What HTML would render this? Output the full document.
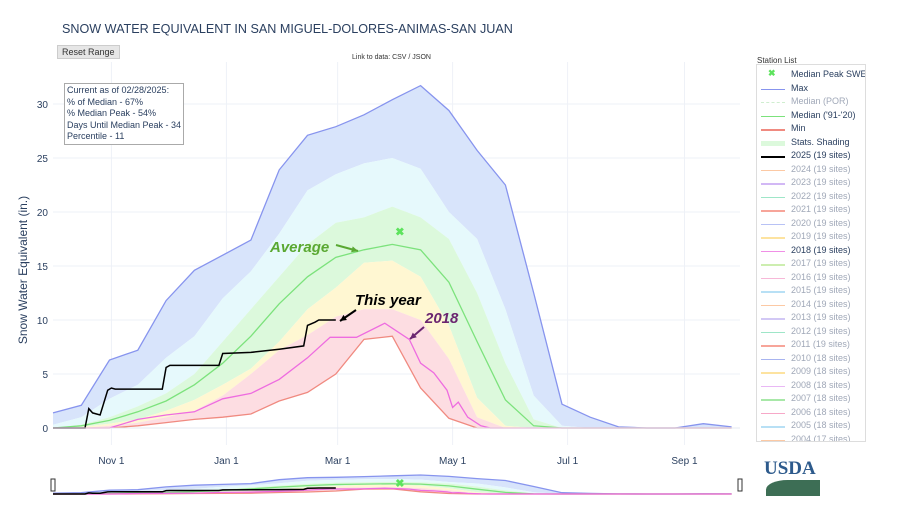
<!DOCTYPE html>
<html><head><meta charset="utf-8"><style>
body{margin:0;background:#fff;font-family:"Liberation Sans",sans-serif;}
#wrap{position:relative;width:897px;height:514px;overflow:hidden;}
.t{position:absolute;white-space:nowrap;}
</style></head><body>
<div id="wrap">
<div class="t" style="left:62px;top:22px;font-size:12.6px;color:#2a3f5f;">SNOW WATER EQUIVALENT IN SAN MIGUEL-DOLORES-ANIMAS-SAN JUAN</div>
<div class="t" style="left:57px;top:45px;font-size:9px;background:#e6e6e6;border:1px solid #ccc;padding:1px 4px;color:#333;">Reset Range</div>
<div class="t" style="left:352px;top:54px;font-size:7px;color:#333;">Link to data: CSV / JSON</div>
<div class="t" style="left:757px;top:56px;font-size:8px;color:#333;">Station List</div>
<svg id="chart" width="897" height="514" style="position:absolute;left:0;top:0"></svg>
<div class="t" style="left:64px;top:83px;font-size:9px;line-height:11.5px;color:#2a3f5f;border:1px solid #aaa;padding:1px 2px;background:#fff;">Current as of 02/28/2025:<br>% of Median - 67%<br>% Median Peak - 54%<br>Days Until Median Peak - 34<br>Percentile - 11</div>
<div id="legend" style="position:absolute;left:756px;top:64px;width:108px;height:376px;border:1px solid #ddd;background:#fff;overflow:hidden;"></div>
<div style="position:absolute;left:764px;top:458px;width:56px;height:40px;">
<div style="font:bold 19px 'Liberation Serif',serif;color:#2d5a8c;">USDA</div>
<div style="position:absolute;left:2px;top:22px;width:54px;height:16px;background:#3d6e55;border-radius:40% 0 0 0 / 60% 0 0 0;"></div>
</div>
</div>
<script>
const days=[0,15,30,45,60,75,90,105,120,135,150,165,180,195,210,225,240,255,270,285,300,315,330,345,360];
const maxV=[1.4,2.1,6.3,7.2,11.8,14.6,16,17.4,23.9,27.1,27.9,29,30.4,31.7,29.4,25.7,22.5,12.5,2.2,1,0.1,0,0,0.4,0.1];
const p90V=[0.3,1,2.7,4,6.5,8.5,12,14.5,18,22,23.5,24.5,25,24,20,17.5,11,3,0.2,0,0,0,0,0,0];
const p70V=[0,0.3,1,2,3.2,5,8,11,14,17,19,19.5,20.5,19.5,17.5,12.5,6,0.8,0,0,0,0,0,0,0];
const medV=[0,0.2,0.7,1.5,2.5,4,6,8.5,11.5,14,15.8,16.5,17,16.5,13.5,8,2.6,0.2,0,0,0,0,0,0,0];
const p30V=[0,0.1,0.4,0.8,1.6,2.6,4,5.5,8,11,13,15.3,15.5,14,9.5,2.8,0.2,0,0,0,0,0,0,0,0];
const p10V=[0,0,0.2,0.5,1,1.6,3,5,7.2,8.6,10.3,11,11,10,6.4,1,0,0,0,0,0,0,0,0,0];
const minV=[0,0,0,0.2,0.5,0.8,1,1.3,2.5,3.3,5,8.2,8.5,3.7,0.9,0,0,0,0,0,0,0,0,0,0];
const y2025Days=[0,17,19,21,25,29,31,33,58,60,62,88,90,105,120,133,135,139,141,150];
const y2025V=[0,0,1.8,1.4,1.2,3.5,3.7,3.6,3.6,5.6,5.8,5.8,6.9,7.0,7.3,7.6,9.5,9.8,10,10];
const y2018Days=[0,30,45,60,75,90,105,120,135,147,161,176,189,195,202,209,212,215,220,227,232,360];
const y2018V=[0,0,0.8,1.2,1.5,2.7,3.2,4.5,6.5,8.4,8.4,9.7,8.2,6,5.1,3.5,1.9,2.4,1,0.2,0,0];
const peakDay=[184], peakVal=[18.2];
const yTicks=[0,5,10,15,20,25,30];
const xTickDays=[31,92,151,212,273,335];
const xTickLabels=["Nov  1","Jan  1","Mar  1","May  1","Jul  1","Sep  1"];

const NS="http://www.w3.org/2000/svg";
const svg=document.getElementById('chart');
const X=d=>53+d*1.885, Y=v=>428-v*10.8, Ym=v=>494-v*0.6;
function mk(tag,attrs,name,parent){const e=document.createElementNS(NS,tag);for(const k in attrs)e.setAttribute(k,attrs[k]);


(parent||svg).appendChild(e);return e;}
function pts(ds,vs,yf){return ds.map((d,i)=>X(d).toFixed(1)+','+yf(vs[i]).toFixed(1)).join(' ');}
function band(up,lo,fill,name,yf){const a=pts(days,up,yf),b=days.map((d,i)=>X(d).toFixed(1)+','+yf(lo[i]).toFixed(1)).reverse().join(' ');
mk('polygon',{points:a+' '+b,fill:fill,stroke:'none'},name);}
yTicks.forEach(v=>{mk('line',{x1:53,x2:740,y1:Y(v),y2:Y(v),stroke:'#eef1f7','stroke-width':1},'y-grid-line');
const t=mk('text',{x:48,y:Y(v)+4,'text-anchor':'end','font-size':10,fill:'#2a3f5f'},'y-tick-label');t.textContent=v;});
xTickDays.forEach((d,i)=>{mk('line',{x1:X(d),x2:X(d),y1:62,y2:445,stroke:'#eef1f7','stroke-width':1},'x-grid-line');
const t=mk('text',{x:X(d),y:464,'text-anchor':'middle','font-size':10,fill:'#2a3f5f'},'x-tick-label');t.textContent=xTickLabels[i];});
const yt=mk('text',{x:0,y:0,transform:'translate(27,270) rotate(-90)','text-anchor':'middle','font-size':12,fill:'#2a3f5f'},'y-axis-title');yt.textContent='Snow Water Equivalent (in.)';
function drawStats(yf,pre){
band(maxV,p90V,'#d8e4fb',pre+'band-90-max',yf);
band(p90V,p70V,'#e6f9fc',pre+'band-70-90',yf);
band(p70V,p30V,'#dcf9dc',pre+'band-30-70',yf);
band(p30V,p10V,'#fff7d2',pre+'band-10-30',yf);
band(p10V,minV,'#fddde2',pre+'band-min-10',yf);
mk('polyline',{points:pts(days,maxV,yf),fill:'none',stroke:'#8794ee','stroke-width':1.3},pre+'max-line');
mk('polyline',{points:pts(days,medV,yf),fill:'none',stroke:'#7ce27c','stroke-width':1.3},pre+'median-line');
mk('polyline',{points:pts(days,minV,yf),fill:'none',stroke:'#f08a80','stroke-width':1.3},pre+'min-line');
mk('polyline',{points:pts(y2018Days,y2018V,yf),fill:'none',stroke:'#ee6ce0','stroke-width':1.3},pre+'line-2018');
mk('polyline',{points:pts(y2025Days,y2025V,yf),fill:'none',stroke:'#000','stroke-width':1.5},pre+'line-2025');
const p=mk('text',{x:X(peakDay[0]),y:yf(peakVal[0])+4,'text-anchor':'middle','font-size':11,'font-weight':'bold',fill:'#5de35d'},pre+'median-peak-marker');p.textContent='✖';
}
drawStats(Y,'');
mk('line',{x1:53,x2:740,y1:428,y2:428,stroke:'#e4e8f0','stroke-width':1},'x-axis-line');
drawStats(Ym,'mini-');
mk('rect',{x:51,y:479,width:4,height:12,fill:'#fff',stroke:'#333','stroke-width':1},'range-handle-left');
mk('rect',{x:738,y:479,width:4,height:12,fill:'#fff',stroke:'#333','stroke-width':1},'range-handle-right');
function ann(txt,x,y,col,ax1,ay1,ax2,ay2,name){
const t=mk('text',{x:x,y:y,'font-size':15,'font-weight':'bold','font-style':'italic',fill:col},name);t.textContent=txt;
mk('line',{x1:ax1,y1:ay1,x2:ax2,y2:ay2,stroke:col,'stroke-width':2},name+'-arrow');
const ang=Math.atan2(ay2-ay1,ax2-ax1),L=7;
const a1=[ax2-L*Math.cos(ang-0.45),ay2-L*Math.sin(ang-0.45)],a2=[ax2-L*Math.cos(ang+0.45),ay2-L*Math.sin(ang+0.45)];
mk('polygon',{points:`${ax2},${ay2} ${a1} ${a2}`,fill:col},name+'-arrowhead');}
ann('Average',270,252,'#5aa832',336,245,358,251,'average-annotation');
ann('This year',355,305,'#000',356,310,340,321,'this-year-annotation');
ann('2018',425,323,'#6b2670',424,327,410,339,'2018-annotation');
const leg=[['Median Peak SWE','#5de35d','x','#2a3f5f'],['Max','#8794ee','l','#2a3f5f'],['Median (POR)','#cfeecf','d','#a0a8b8'],["Median ('91-'20)",'#7ce27c','l','#2a3f5f'],['Min','#f08a80','l','#2a3f5f'],['Stats. Shading','#dcf9dc','s','#2a3f5f'],['2025 (19 sites)','#000','l','#2a3f5f']];
const yc=[['2024','#fcc9a4'],['2023','#d2b8f5'],['2022','#9ee6c8'],['2021','#f7a59a'],['2020','#b8c2f5'],['2019','#fde3a0'],['2018','#f08fe6'],['2017','#cdeeb0'],['2016','#f7b8d8'],['2015','#b8e0f5'],['2014','#fcc9a4'],['2013','#d2c8f5'],['2012','#9ee6c8'],['2011','#f7a59a'],['2010','#a8b4f0'],['2009','#fde3a0'],['2008','#e9b8f5'],['2007','#a8e8a8'],['2006','#f7a8c8'],['2005','#b8e0f5'],['2004','#fcc9a4']];
yc.forEach(([y,c])=>{const n=+y>=2011?19:(+y>=2005?18:17);leg.push([y+' ('+n+' sites)',c,'l',y==='2018'?'#2a3f5f':'#a0a8b8']);});
const L=document.getElementById('legend');
leg.forEach((it,i)=>{const r=document.createElement('div');


r.style.cssText=`position:absolute;left:0;top:${4+i*13.5}px;height:13px;width:108px;font-size:9px;color:${it[3]};white-space:nowrap;`;
let sw='';
const th=it[0].startsWith('2025')?2:1.5;
if(it[2]==='x')sw=`<span style="position:absolute;display:block;left:11px;top:-1px;color:${it[1]};font-weight:bold;font-size:9px">✖</span>`;
else if(it[2]==='s')sw=`<span style="position:absolute;display:block;left:4px;top:4px;width:24px;height:5px;background:${it[1]}"></span>`;
else if(it[2]==='d')sw=`<span style="position:absolute;display:block;left:4px;top:6px;width:24px;height:0;border-top:1.5px dashed ${it[1]}"></span>`;
else sw=`<span style="position:absolute;display:block;left:4px;top:6px;width:24px;height:${th}px;background:${it[1]}"></span>`;
r.innerHTML=sw+`<span style="position:absolute;left:34px;top:0">${it[0]}</span>`;L.appendChild(r);});
</script>
</body></html>
